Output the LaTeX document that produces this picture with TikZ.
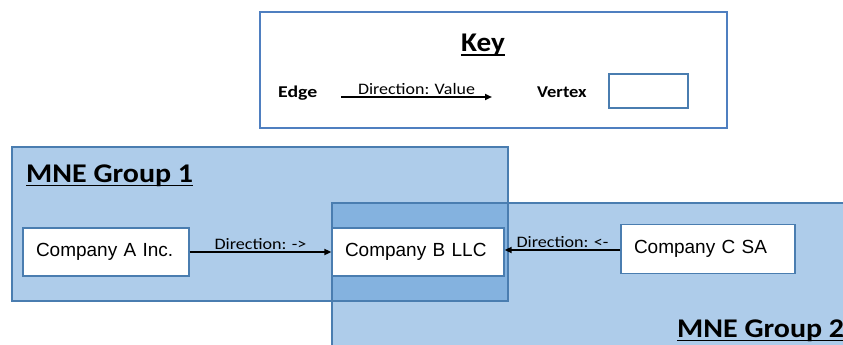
\documentclass[tikz,border=0pt]{standalone}
\usepackage{graphicx}
\usepackage{fontspec}
\setmainfont{Carlito}
\newfontfamily\arialf{Liberation Sans}
\usetikzlibrary{arrows.meta,positioning}
\definecolor{grpfill}{HTML}{AECCEA}
\definecolor{grpover}{HTML}{84B2DF}
\definecolor{grpline}{HTML}{4A7DB0}
\definecolor{keyline}{HTML}{4F7FC0}
\newcommand{\widen}[2]{\scalebox{#1}[1]{#2}}
\tikzset{
  company/.style={draw=grpline, line width=1.3pt, fill=white, minimum height=48pt,
    inner xsep=13pt, align=left, font=\arialf\fontsize{19}{21}\selectfont},
  edge/.style={line width=2pt, -{Triangle[length=7pt,width=6pt]}},
  elabel/.style={font=\fontsize{16}{18}\selectfont, inner sep=1pt, anchor=south},
  title/.style={font=\bfseries\fontsize{27}{30}\selectfont, inner sep=0pt},
  keyword/.style={font=\bfseries\fontsize{16.5}{18}\selectfont, inner sep=0pt},
  uline/.style={line width=1.6pt}
}
\begin{document}
\begin{tikzpicture}[x=1pt,y=-1pt]
\useasboundingbox (0,0) rectangle (843,345);
\clip (0,0) rectangle (843,345);
% key box
\draw[keyline, line width=1.6pt] (260,12) rectangle (727,128);
\node[title, anchor=base] (key) at (483,52) {\widen{1.08}{Key}};
\draw[uline] ([yshift=-3pt]key.base west) -- ([yshift=-3pt]key.base east);
\node[keyword, anchor=base west] (kedge) at (278,97) {\widen{1.2}{Edge}};
\coordinate (ka) at (341,97);
\coordinate (kb) at (492,97);
\draw[edge] (ka) -- node[elabel] (kl) {\widen{1.12}{Direction: Value}} (kb);
\node[keyword, anchor=base west] (kvert) at (537,97) {\widen{1.12}{Vertex}};
\node[draw=grpline, line width=1.5pt, minimum width=79pt, minimum height=34pt, inner sep=0pt] (kbox) at (648.5,91) {};
% groups
\fill[grpfill] (12,147) rectangle (508,301);
\fill[grpfill] (332,203) rectangle (850,350);
\fill[grpover] (332,203) rectangle (508,301);
\draw[grpline, line width=1.6pt] (12,147) rectangle (508,301);
\draw[grpline, line width=1.6pt] (332,203) rectangle (850,350);
\node[title, anchor=base west] (g1) at (26,182) {\widen{1.11}{MNE Group 1}};
\draw[uline] ([yshift=-3.5pt]g1.base west) -- ([yshift=-3.5pt]g1.base east);
\node[title, anchor=base west] (g2) at (677,337) {\widen{1.11}{MNE Group 2}};
\draw[uline] ([yshift=-3.5pt]g2.base west) -- ([yshift=-3.5pt]g2.base east);
% companies
\node[company, text width=140pt] (A) at (106,252) {Company A Inc.};
\node[company, text width=146pt] (B) at (418,252) {Company B LLC};
\node[company, text width=148pt, minimum height=49pt] (C) at (708,249) {Company C SA};
\draw[edge] (A.east) -- node[elabel] (la) {\widen{1.13}{Direction: ->}} (B.west);
\draw[edge] ([yshift=-1pt]C.west) -- node[elabel] (lc) {\widen{1.13}{Direction: <-}} ([yshift=-1pt]C.west -| B.east);
\end{tikzpicture}
\end{document}
